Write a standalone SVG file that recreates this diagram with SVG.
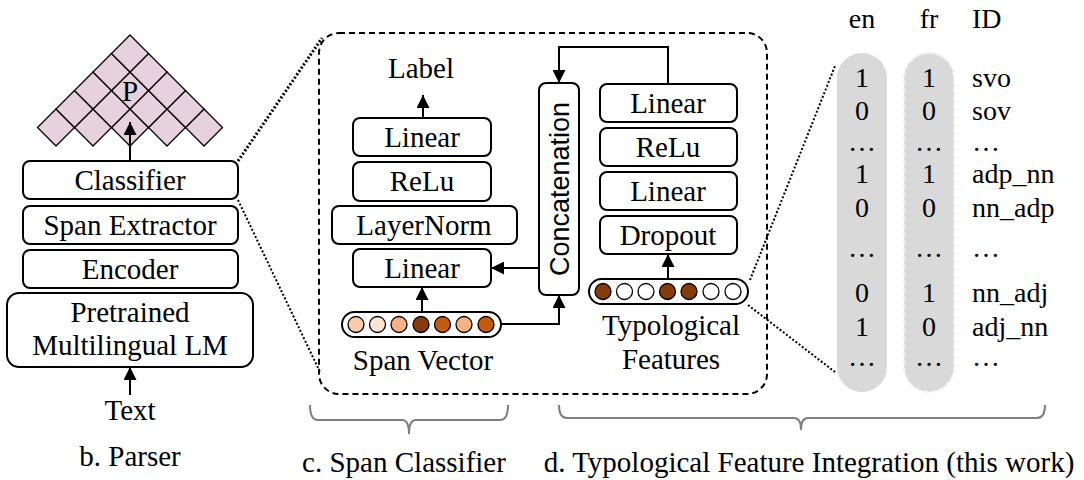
<svg xmlns="http://www.w3.org/2000/svg" width="1084" height="480" viewBox="0 0 1084 480">
<defs>
<style>
.box{fill:#fff;stroke:#000;stroke-width:2}
.t{font-family:"Liberation Serif","Times New Roman",serif;font-size:29px;fill:#000;text-anchor:middle}
.tl{font-family:"Liberation Serif","Times New Roman",serif;font-size:28px;fill:#000}
.tc{font-family:"Liberation Serif","Times New Roman",serif;font-size:28px;fill:#000;text-anchor:middle}
.con{fill:none;stroke:#000;stroke-width:2}
.dot{fill:none;stroke:#000;stroke-dasharray:2 2}
.brace{fill:none;stroke:#7f7f7f;stroke-width:2}
.dia{fill:#e8d1df;stroke:#000;stroke-width:1.3}
.c{stroke:#000;stroke-width:1.3}
</style>
<marker id="ah" viewBox="0 0 10 10" refX="10" refY="5" markerWidth="14" markerHeight="13" markerUnits="userSpaceOnUse" orient="auto">
<path d="M0,0 L10,5 L0,10 z" fill="#000"/>
</marker>
<polygon id="d" points="0,-18.5 18.5,0 0,18.5 -18.5,0" class="dia"/>
</defs>
<rect width="1084" height="480" fill="#fff"/>

<!-- b. Parser -->
<g id="pyramid">
<use href="#d" x="56" y="127.5"/><use href="#d" x="93" y="127.5"/><use href="#d" x="130" y="127.5"/><use href="#d" x="167" y="127.5"/><use href="#d" x="204" y="127.5"/>
<use href="#d" x="74.5" y="109"/><use href="#d" x="111.5" y="109"/><use href="#d" x="148.5" y="109"/><use href="#d" x="185.5" y="109"/>
<use href="#d" x="93" y="90.5"/><use href="#d" x="130" y="90.5"/><use href="#d" x="167" y="90.5"/>
<use href="#d" x="111.5" y="72"/><use href="#d" x="148.5" y="72"/>
<use href="#d" x="130" y="53.5"/>
<text class="t" x="130" y="101" font-size="30">P</text>
</g>
<g id="classifier"><rect class="box" x="23" y="161" width="215" height="38" rx="7"/><text class="t" x="130" y="190">Classifier</text></g>
<g id="span-extractor"><rect class="box" x="23" y="206" width="215" height="38" rx="7"/><text class="t" x="130" y="235">Span Extractor</text></g>
<g id="encoder"><rect class="box" x="23" y="250" width="215" height="38" rx="7"/><text class="t" x="130" y="279">Encoder</text></g>
<g id="pretrained"><rect class="box" x="7" y="293" width="246" height="74" rx="12"/><text class="t" x="130" y="322">Pretrained</text><text class="t" x="130" y="355">Multilingual LM</text></g>
<g id="text-in"><text class="t" x="130" y="420">Text</text></g>
<g id="label-b"><text class="t" x="130" y="466">b. Parser</text></g>

<!-- c. Span Classifier -->
<g id="span-classifier-frame"><rect x="319" y="33" width="448" height="361" rx="20" fill="none" stroke="#000" stroke-width="2" stroke-dasharray="6 4"/></g>
<g id="label"><text class="t" x="421" y="78">Label</text></g>
<g id="linear-top"><rect class="box" x="353" y="118" width="138" height="38" rx="7"/><text class="t" x="422" y="147">Linear</text></g>
<g id="relu-left"><rect class="box" x="353" y="162" width="138" height="39" rx="7"/><text class="t" x="422" y="191">ReLu</text></g>
<g id="layernorm"><rect class="box" x="332" y="206" width="185" height="38" rx="7"/><text class="t" x="424" y="235">LayerNorm</text></g>
<g id="linear-bottom"><rect class="box" x="353" y="249" width="138" height="38" rx="7"/><text class="t" x="422" y="278">Linear</text></g>
<g id="span-vector">
<rect class="box" x="342" y="312" width="159" height="25" rx="12.5" stroke-width="1.5"/>
<circle class="c" cx="356" cy="324.5" r="8" fill="#f8cbad"/>
<circle class="c" cx="377.5" cy="324.5" r="8" fill="#fce4d6"/>
<circle class="c" cx="399" cy="324.5" r="8" fill="#f4b183"/>
<circle class="c" cx="421" cy="324.5" r="8" fill="#843c0c"/>
<circle class="c" cx="442.5" cy="324.5" r="8" fill="#c55a11"/>
<circle class="c" cx="464" cy="324.5" r="8" fill="#f4b183"/>
<circle class="c" cx="486" cy="324.5" r="8" fill="#c55a11"/>
<text class="t" x="423" y="370">Span Vector</text>
</g>
<g id="concatenation"><rect class="box" x="539" y="83" width="40" height="212" rx="7"/><text x="0" y="0" transform="translate(569,189) rotate(-90)" font-family="'Liberation Sans',Arial,sans-serif" font-size="27" text-anchor="middle">Concatenation</text></g>
<g id="linear-r1"><rect class="box" x="600" y="84" width="137" height="38" rx="7"/><text class="t" x="668" y="113">Linear</text></g>
<g id="relu-right"><rect class="box" x="600" y="128" width="137" height="38" rx="7"/><text class="t" x="668" y="157">ReLu</text></g>
<g id="linear-r2"><rect class="box" x="600" y="172" width="137" height="38" rx="7"/><text class="t" x="668" y="201">Linear</text></g>
<g id="dropout"><rect class="box" x="600" y="216" width="137" height="38" rx="7"/><text class="t" x="668" y="245">Dropout</text></g>
<g id="typological-features">
<rect class="box" x="589" y="279" width="159" height="25" rx="12.5" stroke-width="1.5"/>
<circle class="c" cx="603" cy="291.5" r="8" fill="#843c0c"/>
<circle class="c" cx="624.5" cy="291.5" r="8" fill="#fff"/>
<circle class="c" cx="646" cy="291.5" r="8" fill="#fff"/>
<circle class="c" cx="667.5" cy="291.5" r="8" fill="#843c0c"/>
<circle class="c" cx="689" cy="291.5" r="8" fill="#843c0c"/>
<circle class="c" cx="711" cy="291.5" r="8" fill="#fff"/>
<circle class="c" cx="733" cy="291.5" r="8" fill="#fff"/>
<text class="t" x="671" y="335">Typological</text>
<text class="t" x="671" y="369">Features</text>
</g>
<g id="label-c"><text class="t" x="404" y="472">c. Span Classifier</text></g>

<!-- d. table -->
<g id="table">
<rect x="837" y="53" width="50" height="339" rx="25" fill="#d9d9d9"/>
<rect x="904" y="53" width="50" height="339" rx="25" fill="#d9d9d9" stroke="#f2f2f2" stroke-width="2" stroke-dasharray="5 3"/>
<text class="tc" x="862" y="28">en</text>
<text class="tc" x="929" y="28">fr</text>
<text class="tl" x="972" y="28">ID</text>
<text class="tc" x="862" y="87">1</text><text class="tc" x="929" y="87">1</text><text class="tl" x="972" y="87">svo</text>
<text class="tc" x="862" y="120">0</text><text class="tc" x="929" y="120">0</text><text class="tl" x="972" y="120">sov</text>
<text class="tc" x="862" y="151">…</text><text class="tc" x="929" y="151">…</text><text class="tl" x="972" y="151">…</text>
<text class="tc" x="862" y="183">1</text><text class="tc" x="929" y="183">1</text><text class="tl" x="972" y="183">adp_nn</text>
<text class="tc" x="862" y="217">0</text><text class="tc" x="929" y="217">0</text><text class="tl" x="972" y="217">nn_adp</text>
<text class="tc" x="862" y="257">…</text><text class="tc" x="929" y="257">…</text><text class="tl" x="972" y="257">…</text>
<text class="tc" x="862" y="302">0</text><text class="tc" x="929" y="302">1</text><text class="tl" x="972" y="302">nn_adj</text>
<text class="tc" x="862" y="336">1</text><text class="tc" x="929" y="336">0</text><text class="tl" x="972" y="336">adj_nn</text>
<text class="tc" x="862" y="366">…</text><text class="tc" x="929" y="366">…</text><text class="tl" x="972" y="366">…</text>
</g>
<g id="label-d"><text class="t" x="809" y="472">d. Typological Feature Integration (this work)</text></g>

<!-- connectors -->
<g id="connectors">
<path class="con" d="M130,161 V122" marker-end="url(#ah)"/>
<path class="con" d="M130,395 V367" marker-end="url(#ah)"/>
<path class="con" d="M423,118 V95" marker-end="url(#ah)"/>
<path class="con" d="M422,312 V287" marker-end="url(#ah)"/>
<path class="con" d="M501,324 H559 V295" marker-end="url(#ah)"/>
<path class="con" d="M539,268 H491" marker-end="url(#ah)"/>
<path class="con" d="M668,84 V47 H559 V83" marker-end="url(#ah)"/>
<path class="con" d="M668,279 V254" marker-end="url(#ah)"/>
<path class="dot" d="M238,161 L322,38" stroke-width="3"/>
<path class="dot" d="M238,200 L320,372" stroke-width="2"/>
<path class="dot" d="M750,280 L835,66" stroke-width="2"/>
<path class="dot" d="M748,305 L835,372" stroke-width="2"/>
<path class="brace" d="M310,405 Q310,420 318,420 H402 Q409,420 409,434 Q409,420 416,420 H500 Q508,420 508,405"/>
<path class="brace" d="M559,405 Q559,418 567,418 H794 Q801,418 801,430 Q801,418 808,418 H1037 Q1045,418 1045,405"/>
</g>
</svg>
